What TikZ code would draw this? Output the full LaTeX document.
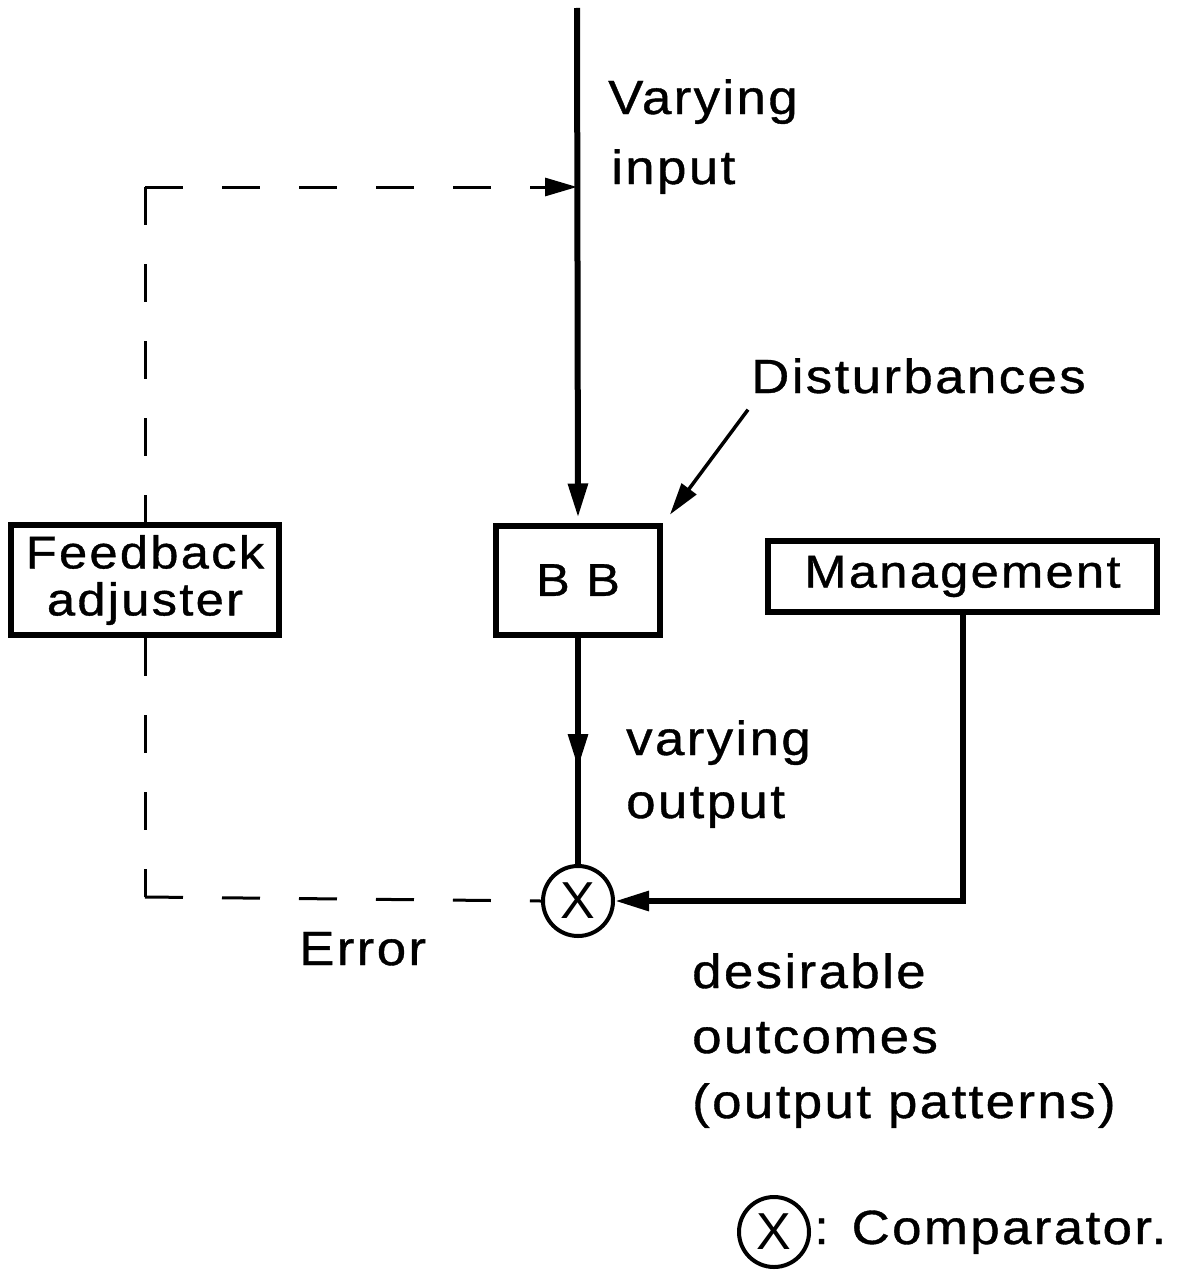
\documentclass[tikz,border=0pt]{standalone}
\usepackage{fontspec}
\setmainfont{Liberation Sans}[FakeStretch=1.1,LetterSpace=5,FakeBold=0.8]
\newfontfamily\plainfont{Liberation Sans}
\usetikzlibrary{arrows.meta}
\begin{document}
\begin{tikzpicture}[x=1pt,y=-1pt,
  lbl/.style={font=\fontsize{48}{56}\selectfont, inner sep=0pt, anchor=base west},
  blk/.style={draw, line width=6pt, inner sep=0pt, font=\fontsize{46}{47}\selectfont, align=center},
  cmpstyle/.style={draw, circle, line width=4pt, minimum size=70pt, inner sep=0pt, font=\plainfont\fontsize{52}{52}\selectfont},
  mainline/.style={line width=6pt},
  thinline/.style={line width=3.5pt},
  dashline/.style={line width=3pt, dash pattern=on 38pt off 39pt},
  tipA/.style={-{Triangle[length=34pt,width=19pt]}},
  tipB/.style={-{Triangle[length=32pt,width=18pt]}}
]
\fill[white] (0,0) rectangle (1182,1271);
\useasboundingbox (0,0) rectangle (1182,1271);

% blocks
\node[blk, minimum width=268pt, minimum height=110pt] (fb) at (145,580) {Feedback\\adjuster};
\node[blk, minimum width=164pt, minimum height=109pt] (bb) at (578,580) {B B};
\node[blk, minimum width=389pt, minimum height=71pt] (mgmt) at (962.5,576.5) {Management};
\node[cmpstyle] (cmp) at (578,901) {X};

% coordinates
\coordinate (top) at (577,8);
\coordinate (join) at (577,187);
\coordinate (c1) at (145,187);
\coordinate (c2) at (145,897);
\coordinate (mid) at (578,768);

% labels
\node[lbl] (vin1) at (608,114) {Varying};
\node[lbl] (vin2) at (611,184) {input};
\node[lbl] (dtext) at (751,393) {Disturbances};
\node[lbl] (vout1) at (626,755) {varying};
\node[lbl] (vout2) at (626,818) {output};
\node[lbl] (err) at (299,965) {Error};
\node[lbl] (des1) at (692,988) {desirable};
\node[lbl] (des2) at (692,1053) {outcomes};
\node[lbl] (des3) at (692,1118) {(output patterns)};

% legend
\node[cmpstyle] (legc) at (774,1232) {X};
\node[lbl] (legt) at (814,1244) {: Comparator.};

% solid connectors
\draw[mainline, tipA, shorten >=5pt] (top) -- (bb.north);
\draw[mainline] (bb.south) -- (cmp.north);
\draw[mainline, tipA] (bb.south) -- (mid);
\draw[mainline, tipA] (mgmt.south) |- (cmp.east);
\draw[thinline, tipB] ([shift={(-3,16)}]dtext.south west) -- ([shift={(7,-8)}]bb.north east);

% dashed feedback loop
\draw[dashline] (c1) -- (fb.north);
\draw[dashline, tipB] (c1) -- (join);
\draw[dashline] (fb.south) -- (c2);
\draw[dashline] (c2) -- (cmp.west);
\end{tikzpicture}
\end{document}
